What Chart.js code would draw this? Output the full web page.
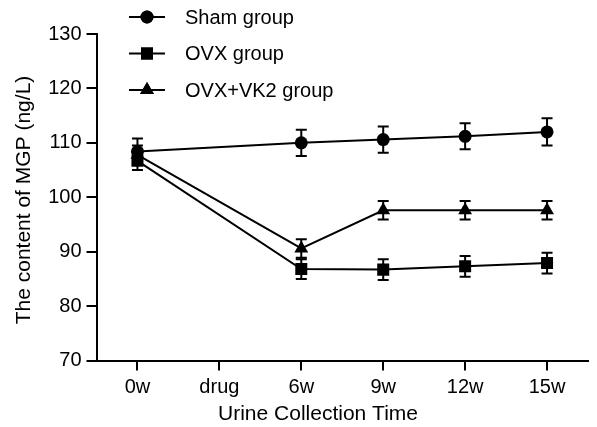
<!DOCTYPE html>
<html>
<head>
<meta charset="utf-8">
<script src="https://cdn.jsdelivr.net/npm/chart.js"></script>
<style>
  body { margin: 0; background: #fff; }
</style>
</head>
<body>
<canvas id="myChart" width="597" height="427"></canvas>
<script>
    // Data
    const categories = ['0w', 'drug', '6w', '9w', '12w', '15w'];
    const seriesNames = ['Sham group', 'OVX group', 'OVX+VK2 group'];
    const shamMean = [108.4, null, 110.0, 110.6, 111.2, 112.0];
    const shamErr = [2.4, null, 2.4, 2.4, 2.4, 2.5];
    const ovxMean = [106.7, null, 86.8, 86.7, 87.3, 87.9];
    const ovxErr = [1.7, null, 1.8, 1.9, 1.9, 1.9];
    const vk2Mean = [107.8, null, 90.6, 97.6, 97.6, 97.6];
    const vk2Err = [1.7, null, 1.7, 1.7, 1.7, 1.7];
    const yTicks = [70, 80, 90, 100, 110, 120, 130];

    const FONT = '"Liberation Sans", Arial, Helvetica, sans-serif';
    Chart.defaults.font.family = FONT;
    Chart.defaults.font.size = 20;
    Chart.defaults.color = '#000';

    const styles = [
        { pointStyle: 'circle', radius: 6.5 },
        { pointStyle: 'rect', radius: 8.5 },
        { pointStyle: 'triangle', radius: 8 }
    ];
    const errors = [shamErr, ovxErr, vk2Err];

    function makeSet(i, values) {
        return {
            label: seriesNames[i],
            data: values,
            borderColor: '#000',
            backgroundColor: '#000',
            borderWidth: 2,
            pointStyle: styles[i].pointStyle,
            pointRadius: styles[i].radius,
            pointBorderWidth: 0,
            pointBackgroundColor: '#000',
            tension: 0,
            spanGaps: true
        };
    }

    // error bars, drawn with the chart's own scales
    const errorBars = {
        id: 'errorBars',
        beforeDatasetsDraw(chart) {
            const ctx = chart.ctx;
            const x = chart.scales.x, y = chart.scales.y;
            ctx.save();
            ctx.strokeStyle = '#000';
            ctx.lineWidth = 2;
            chart.data.datasets.forEach((ds, d) => {
                ds.data.forEach((v, i) => {
                    const e = errors[d][i];
                    if (v === null || e === null) return;
                    const px = x.getPixelForValue(i);
                    const top = y.getPixelForValue(v + e);
                    const bot = y.getPixelForValue(v - e);
                    ctx.beginPath();
                    ctx.moveTo(px, top); ctx.lineTo(px, bot);
                    ctx.moveTo(px - 5.5, top); ctx.lineTo(px + 5.5, top);
                    ctx.moveTo(px - 5.5, bot); ctx.lineTo(px + 5.5, bot);
                    ctx.stroke();
                });
            });
            ctx.restore();
        }
    };

    // legend block top-left and axis titles
    const extras = {
        id: 'extras',
        afterDraw(chart) {
            const ctx = chart.ctx;
            ctx.save();
            const rows = [17, 53.5, 90];
            seriesNames.forEach((name, i) => {
                const yy = rows[i];
                ctx.strokeStyle = '#000';
                ctx.lineWidth = 2;
                ctx.beginPath();
                ctx.moveTo(129, yy); ctx.lineTo(165, yy);
                ctx.stroke();
                Chart.helpers.drawPoint(ctx, {
                    pointStyle: styles[i].pointStyle,
                    radius: styles[i].radius,
                    rotation: 0,
                    borderWidth: 0
                }, 147, yy);
                ctx.fillStyle = '#000';
                ctx.fill();
                ctx.font = '20px ' + FONT;
                ctx.textAlign = 'left';
                ctx.textBaseline = 'middle';
                ctx.fillText(name, 185, yy + 1);
            });

            ctx.font = '21px ' + FONT;
            ctx.textAlign = 'center';
            ctx.textBaseline = 'middle';
            ctx.fillText('Urine Collection Time', 318, 414);

            ctx.translate(24, 200);
            ctx.rotate(-Math.PI / 2);
            ctx.fillText('The content of MGP (ng/L)', 0, 0);
            ctx.restore();
        }
    };

    const ctx = document.getElementById('myChart').getContext('2d');
    const myChart = new Chart(ctx, {
        type: 'line',
        data: {
            labels: categories,
            datasets: [makeSet(0, shamMean), makeSet(1, ovxMean), makeSet(2, vk2Mean)]
        },
        options: {
            responsive: false,
            animation: false,
            layout: { padding: { top: 34, right: 9, left: 0, bottom: 0 } },
            plugins: {
                legend: { display: false },
                tooltip: { enabled: false }
            },
            scales: {
                x: {
                    type: 'category',
                    offset: true,
                    grid: { drawOnChartArea: false, drawTicks: true, tickLength: 10, color: '#000', lineWidth: 2 },
                    border: { color: '#000', width: 2 },
                    ticks: { padding: 5, font: { size: 20 }, maxRotation: 0, autoSkip: false },
                    afterFit(scale) { scale.height = 66.5; }
                },
                y: {
                    min: yTicks[0],
                    max: yTicks[yTicks.length - 1],
                    afterBuildTicks(scale) { scale.ticks = yTicks.map(v => ({ value: v })); },
                    grid: { drawOnChartArea: false, drawTicks: true, tickLength: 10, color: '#000', lineWidth: 2 },
                    border: { color: '#000', width: 2 },
                    ticks: { padding: 5, font: { size: 20 } },
                    afterFit(scale) { scale.width = 96.5; }
                }
            }
        },
        plugins: [errorBars, extras]
    });
</script>
</body>
</html>
